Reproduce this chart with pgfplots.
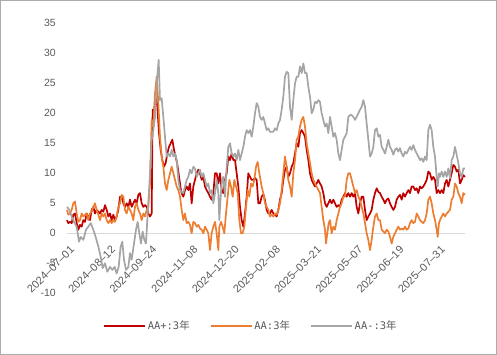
\documentclass[border=0pt]{standalone}
\usepackage{fontspec}
\setmainfont{Liberation Sans}
\newfontfamily\cjk{Noto Sans CJK SC}
\newfontfamily\lmono{DejaVu Sans Mono}
\usepackage{pgfplots}
\pgfplotsset{compat=1.18}
\definecolor{cRed}{HTML}{C00000}
\definecolor{cOrange}{HTML}{ED7D31}
\definecolor{cGray}{HTML}{A5A5A5}
\definecolor{txt}{HTML}{595959}
\definecolor{zero}{HTML}{D9D9D9}
\definecolor{frame}{HTML}{ABABAB}
\newcommand{\legtxt}[1]{{\lmono #1}{\cjk 年}}
\begin{document}
\begin{tikzpicture}
\useasboundingbox (-67bp,-61.7bp) rectangle (430bp,293.3bp);
\draw[frame, line width=1bp] (-66.5bp,-61.2bp) rectangle (429.5bp,292.8bp);
\begin{axis}[
  at={(0,0)}, anchor=south west,
  scale only axis, width=398bp, height=270bp,
  xmin=0, xmax=1194, ymin=-10, ymax=35,
  axis x line=middle, axis y line=left,
  x axis line style={-, draw=zero, line width=1.5bp},
  y axis line style={draw=none},
  hide obscured x ticks=false, hide obscured y ticks=false,
  major tick length=0pt,
  ytick={-10,-5,0,5,10,15,20,25,30,35},
  xtick={3,126.6,250.2,373.8,497.4,621,744.6,868.2,991.8,1115.4},
  xticklabels={2024–07–01,2024–08–12,2024–09–24,2024–11–08,2024–12–20,2025–02–08,2025–03–21,2025–05–07,2025–06–19,2025–07–31},
  /pgf/number format/assume math mode=true,
  ticklabel style={text=txt},
  yticklabel style={font=\fontsize{10.5}{12}\selectfont, anchor=east, inner sep=0pt, xshift=-11bp},
  xticklabel style={font=\fontsize{11}{13}\selectfont, rotate=45, anchor=north east, inner sep=0pt, xshift=2bp},
  xticklabel shift=13bp,
  clip=false,
  legend columns=3,
  legend style={at={(0.462,-0.122)}, anchor=center, draw=none, fill=none,
    font=\fontsize{10.5}{12}\selectfont, text=txt,
    /tikz/every even column/.append style={column sep=18bp}},
  legend image code/.code={\draw[#1, line width=1.7bp] (0bp,0bp) -- (41bp,0bp);},
  every axis plot/.append style={line width=1.7bp, line join=round, no markers},
]
\addplot[cRed] coordinates {
(0,2.2) (4,1.7) (9,1.9) (14,1.7) (19,3.1) (24,3.3) (29,1.7) (34,0.6) (39,1.4) (44,1.1) (49,2.2) (54,1.9) (59,3.3) (64,2.8) (69,2.2) (74,3.9) (79,4.4) (84,3.3) (89,3.9) (94,3.6) (99,3.3) (104,3.9) (109,3.6) (114,4.7) (119,3.9) (124,2.8) (129,3.3) (134,2.2) (139,3.1) (144,2.2) (149,2.8) (154,3.9) (159,6.1) (164,6.1) (169,5) (174,4.4) (179,5) (184,4.4) (189,5.6) (194,4.4) (199,5) (204,5.6) (209,5) (214,6.4) (219,6.7) (224,5) (229,4.4) (234,4.7) (239,4.4) (244,3.3) (249,2.8) (254,3.3)
(257,20.6) (261,20) (266,23.3) (271,21.1) (276,16.7) (281,13.9) (286,12.2) (291,11.1) (296,11.7) (301,13.3) (306,14.4) (311,15) (316,15.6) (321,13.9) (326,12.8) (331,11.5) (336,9.5) (341,7.5) (344,6.7)
(349,6.1) (354,7.2) (359,7.8) (364,7.2) (369,8.3) (374,5) (379,7.8) (384,8.9) (389,10) (394,10.6) (399,10) (404,8.9) (409,9.4) (414,7.8) (419,7.2) (424,6.7) (429,6.1) (434,5.6) (439,6.7) (444,10) (449,10) (454,8.3) (459,10) (464,7.2) (469,6.7) (474,8.9) (479,10) (484,12.8) (489,12.2) (494,13.3) (499,12.2) (504,12.2) (509,10) (514,7.8) (519,4.4) (524,2.2) (529,1.1) (534,3.3) (539,6.1) (544,10) (549,9.4) (554,8.9) (559,8.9) (564,9.2) (569,8.9) (574,5)
(579,5) (584,6.1) (589,6.5) (594,5.5) (599,3.9) (604,3.3) (609,3.3) (614,3.9) (619,3.3) (624,3.1) (629,2.8) (634,3.9) (639,5.6) (644,6.7) (649,8.9) (654,10.6) (659,11.1) (664,9.4) (669,10) (674,11.1) (679,11.7) (684,13.3) (689,15) (694,14.4) (699,16.7) (704,17.2) (709,16.7) (714,16.1) (719,13.9) (724,12.2) (729,10) (734,8.9) (739,8.3) (744,7.8) (749,8.3) (754,8.9) (759,8.3) (764,7.8) (769,6.7) (774,5) (779,4.4) (784,5) (789,5.6) (794,5) (799,5.6) (804,5) (809,4.4) (814,4.7) (819,4.4) (824,5.6) (829,6.1) (834,6.7) (839,6.1) (844,6.7) (849,6.1) (854,6.7) (859,6.1) (864,6.7) (869,4.4) (874,3.3) (879,5) (884,6.1)
(889,6.1) (894,3.9) (899,2.2) (904,2.8) (909,3.3) (914,3.9) (919,5.6) (924,6.7) (929,7.5) (934,6.9) (939,6.7) (944,6.1) (949,5.6) (954,5) (959,5.6) (964,5.8) (969,5) (974,4.4) (979,3.9) (984,4.4) (989,5.6) (994,6.1) (999,6.4) (1004,5.6) (1009,6.7) (1014,6.1) (1019,6.7) (1024,7.2) (1029,6.7) (1034,7.8) (1039,7.8) (1044,7.2) (1049,7.5) (1054,6.7) (1059,7.8) (1064,7.5) (1069,7.8) (1074,8.3) (1079,8.9) (1084,10.3) (1089,10) (1094,8.9) (1099,9.4) (1104,8.9) (1109,6.7) (1114,7.2) (1119,6.7) (1124,7.2) (1129,6.7) (1134,8.3) (1139,8.9) (1144,7.8) (1149,8.9) (1154,10) (1159,11.4) (1164,11.1) (1169,10.3) (1174,10.6) (1179,8.3) (1184,8.9) (1189,9.7) (1194,9.4)
};
\addlegendentry{\legtxt{AA+:3}}
\addplot[cOrange] coordinates {
(0,3.9) (4,3.1) (9,3.3) (14,3.9) (19,5) (24,5.3) (29,3.3) (34,1.9) (39,2.2) (44,3.3) (49,2.8) (54,3.1) (59,3.3) (64,2.2) (69,3.3) (74,3.6) (79,4.4) (84,5) (89,3.9) (94,3.1) (99,2.2) (104,3.3) (109,2.8) (114,3.3) (119,2.2) (124,1.7) (129,2.2) (134,1.7) (139,2.2) (144,1.9) (149,2.8) (154,4.4) (159,5) (164,6.4) (169,6.1) (174,3.9) (179,3.3) (184,4.4) (189,3.9) (194,3.3) (199,2.2) (204,4.4) (209,5) (214,3.9) (219,3.3) (224,2.2) (229,3.3) (234,2.8) (239,3.9) (244,4.4) (249,8.3)
(254,18.9) (259,17.8) (264,23.3) (269,26.1) (274,21.7) (279,16.1) (284,12.8) (289,11.1) (294,8.3) (299,7.2) (304,8.9) (309,10) (314,11.1) (319,10) (324,8.9) (329,7.8) (334,7.2) (339,6.1)
(344,3.9) (349,2.2) (354,3.3) (359,1.7) (364,1.9) (369,1.4) (374,0) (379,1.9) (384,1.7) (389,1.1) (394,1.4) (399,0.8) (404,0.6) (409,0) (414,1.1) (419,0.6) (424,0) (429,-2.8) (434,0) (439,1.1) (444,1.9) (449,0) (454,-2.8) (457,1.1) (462,1.9) (467,1.1) (472,0) (477,3.3) (482,6.1) (487,8.9) (492,7.8) (497,6.1) (502,8.9) (507,7.8) (512,6.7) (517,2.2) (522,0) (527,0) (532,1.1) (537,4.4) (542,7.2) (547,6.1) (552,8.3) (557,7.8) (562,8.9) (567,11.1) (572,11.9) (577,10)
(584,7.8) (589,6.7) (594,5) (599,4.4) (604,3.9) (609,2.8) (614,3.1) (619,2.8) (624,3.3) (629,3.1) (634,3.9) (639,5) (644,7.2) (649,10) (654,12.8) (659,11.1) (664,8.9) (669,7.8) (674,6.1) (679,10) (684,12.2) (689,15.6) (694,16.1) (699,17.8) (704,18.9) (709,19.4) (714,17.8) (719,15) (724,13.3) (729,11.7) (734,10) (739,8.9) (744,8.3) (749,7.8) (754,7.2) (759,6.7) (764,4.4) (769,2.2) (774,0.6) (777,-1.7) (781,0) (785,1.7) (789,2.2) (794,0) (799,1.1) (804,0.6) (809,2.2) (814,3.3) (819,4.4) (824,5) (829,6.1) (834,6.1) (839,8.9) (844,10) (849,10) (854,8.9) (859,7.8) (864,6.7) (869,7.2) (874,6.1)
(879,5.5) (884,4.4) (889,3.3) (894,1.7) (899,0) (904,-1.1) (909,-2.8) (914,-1.1) (919,1.1) (924,2.8) (929,3.3) (934,2.2) (939,2.2) (944,0.6) (949,0.3) (954,0) (959,0.6) (964,0.3) (969,-0.6) (974,-1.7) (979,-0.6) (984,0) (989,0.6) (994,1.1) (999,0.6) (1004,0.8) (1009,0.6) (1014,1.1) (1019,0.6) (1024,0.8) (1029,1.7) (1034,2.2) (1039,1.7) (1044,1.9) (1049,3.3) (1054,2.8) (1059,2.2) (1064,1.9) (1069,1.7) (1074,2.2) (1079,3.3) (1084,5.6) (1089,6.1) (1094,5) (1099,3.3) (1104,2.2) (1109,0.6) (1112,-0.6) (1116,1.7) (1119,2.2) (1124,2.8) (1129,3.3) (1134,2.8) (1139,3.3) (1144,3.6) (1149,3.9) (1154,5.6) (1159,6.1) (1164,8.3) (1169,7.8) (1174,6.7) (1179,6.1) (1184,5) (1189,6.7) (1194,6.4)
};
\addlegendentry{\legtxt{AA:3}}
\addplot[cGray] coordinates {
(0,4.4) (7,3.9) (14,2.8) (21,1.9) (29,1.1) (36,-1.4) (41,-0.6) (49,-1.1) (57,0.6) (64,1.1) (71,1.7) (79,0.6) (87,-0.8) (94,-2.2) (101,-3.9) (107,-5.8) (114,-5.0) (121,-6.4) (129,-5.6) (136,-6.1) (143,-5.6) (149,-6.7) (155,-5.6) (161,-2.2) (166,-1.4) (171,-4.4) (177,-6.1) (184,-5.6) (189,-3.3) (194,-4.4) (201,-1.7) (207,0.6) (212,1.9) (217,0) (222,-1.7) (227,0.3) (232,-1.1) (237,-1.7) (242,3.3) (247,8)
(254,15.6) (259,17.2) (264,19.4) (269,25) (275,28.9) (279,22.2) (284,22.5) (289,19.4) (294,16.1) (299,12.8) (304,13.3) (309,12.8) (314,13.9) (319,12.8) (324,13.3) (329,12.2) (334,8.9) (339,7.2)
(344,6.9) (349,6.7) (354,7.8) (359,8.9) (364,9.4) (369,10.6) (374,10) (379,11.1) (384,10.8) (389,9.4) (394,10) (399,10.6) (404,9.4) (409,10) (414,8.9) (419,7.8) (424,8.3) (429,6.7) (434,7.2) (439,5) (444,6.7) (449,8.9) (454,6.7) (457,2.2) (461,6.1) (465,8.9) (469,9.4) (474,6.1) (479,11.1) (484,14.4) (489,15) (494,13.3) (499,12.8) (504,13.3) (509,12.2) (514,13.9) (519,12.2) (524,13.3) (529,14.4) (534,16.1) (539,17.2) (544,16.7) (549,17.2) (554,16.1) (559,17.8) (564,20) (569,21.7) (574,21.1)
(579,19.4) (584,18.9) (589,19.4) (594,18.3) (599,17.2) (604,17.5) (609,16.9) (614,16.9) (619,16.9) (624,17.5) (629,17.2) (634,18.3) (639,18.9) (644,20.6) (649,22.8) (654,26.1) (659,26.9) (664,26.7) (669,21.1) (674,18.9) (679,22.2) (684,25) (689,26.1) (694,26.1) (699,27.8) (704,26.7) (709,28.3) (714,26.7) (719,26.7) (724,24.4) (729,22.8) (734,20) (739,20.6) (744,21.9) (749,21.7) (754,22.2) (759,21.9) (764,20) (769,18.9) (774,17.8) (779,18.3) (784,16.7) (789,19.4) (794,17.8) (799,16.1) (804,16.7) (809,15.6) (814,13.3) (819,12.2) (824,13.9) (829,15.6) (834,16.1) (839,16.7) (844,19.4) (849,19.7) (854,19.7) (859,19.4) (864,18.9) (869,19.4) (874,20)
(879,20.6) (884,21.1) (889,22.2) (894,21.1) (899,18.3) (904,15.6) (909,12.8) (914,13.3) (919,14.4) (924,17.2) (929,17.5) (934,16.1) (939,16.4) (944,14.4) (949,13.9) (954,13.3) (959,14.4) (964,15.6) (969,14.4) (974,13.9) (979,13.1) (984,13.9) (989,14.2) (994,13.6) (999,14.2) (1004,13.3) (1009,12.8) (1014,13.6) (1019,13.3) (1024,13.9) (1029,14.4) (1034,13.9) (1039,14.7) (1044,13.9) (1049,13.3) (1054,12.8) (1059,12.2) (1064,12.5) (1069,11.9) (1074,12.8) (1079,12.2) (1084,17.2) (1089,18.1) (1094,17.2) (1099,14.4) (1104,12.8) (1109,9.4) (1112,7.8) (1116,10) (1119,9.4) (1124,10.3) (1129,9.4) (1134,10.3) (1139,9.4) (1144,10.8) (1149,9.2) (1154,12.2) (1159,12.8) (1164,14.4) (1169,13.1) (1174,11.7) (1179,10) (1184,9.4) (1189,10.8) (1194,10.8)
};
\addlegendentry{\legtxt{AA-:3}}
\end{axis}
\end{tikzpicture}
\end{document}
